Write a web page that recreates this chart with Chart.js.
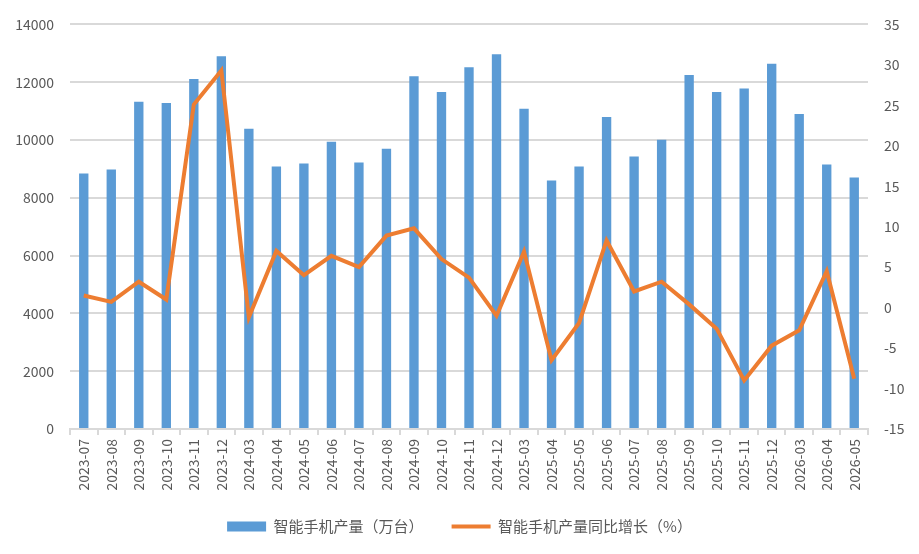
<!DOCTYPE html>
<html>
<head>
<meta charset="utf-8">
<script src="https://cdn.jsdelivr.net/npm/chart.js@4.4.1/dist/chart.umd.min.js"></script>
<style>
    html, body { margin: 0; padding: 0; background: #fff; }
    #wrap { width: 919px; height: 554px; }
</style>
</head>
<body>
<div id="wrap"><canvas id="phoneChart" width="919" height="554"></canvas></div>
<script>
const months = ['2023-07', '2023-08', '2023-09', '2023-10', '2023-11', '2023-12',
    '2024-03', '2024-04', '2024-05', '2024-06', '2024-07', '2024-08', '2024-09', '2024-10', '2024-11', '2024-12',
    '2025-03', '2025-04', '2025-05', '2025-06', '2025-07', '2025-08', '2025-09', '2025-10', '2025-11', '2025-12',
    '2026-03', '2026-04', '2026-05'];

// 智能手机产量（万台）
const output = [8840, 8980, 11320, 11280, 12110, 12900,
    10390, 9080, 9185, 9940, 9220, 9700, 12210, 11660, 12520, 12970,
    11080, 8600, 9080, 10800, 9430, 10010, 12250, 11660, 11780, 12640,
    10900, 9150, 8700];

// 同比增长（%）
const growth = [1.5, 0.7, 3.2, 1.0, 25.1, 29.3,
    -1.2, 7.0, 4.0, 6.4, 5.0, 8.9, 9.8, 6.0, 3.7, -1.0,
    6.9, -6.5, -1.9, 8.3, 2.0, 3.2, 0.4, -2.6, -9.0, -4.7,
    -2.8, 4.5, -8.8];

const gridColor = '#d9d9d9';
const textColor = '#595959';
const fontFamily = '"Noto Sans CJK SC", "Noto Sans", sans-serif';

const ctx = document.getElementById('phoneChart').getContext('2d');
new Chart(ctx, {
    type: 'bar',
    data: {
        labels: months,
        datasets: [{
            type: 'line',
            label: '智能手机产量同比增长（%）',
            data: growth,
            yAxisID: 'y1',
            borderColor: '#ed7d31',
            backgroundColor: '#ed7d31',
            borderWidth: 4,
            pointRadius: 0,
            pointStyle: 'line',
            tension: 0,
            order: 0
        }, {
            label: '智能手机产量（万台）',
            data: output,
            yAxisID: 'y',
            backgroundColor: '#5b9bd5',
            pointStyle: 'rect',
            barPercentage: 0.68,
            categoryPercentage: 0.5,
            order: 1
        }]
    },
    options: {
        responsive: false,
        animation: false,
        layout: { padding: { top: 2, left: 0, right: 0, bottom: 10 } },
        plugins: {
            legend: {
                position: 'bottom',
                reverse: true,
                labels: {
                    usePointStyle: true,
                    pointStyleWidth: 39,
                    boxHeight: 10,
                    padding: 28,
                    color: textColor,
                    font: { family: fontFamily, size: 15 }
                }
            },
            tooltip: { enabled: false }
        },
        scales: {
            x: {
                grid: { display: true, drawOnChartArea: false, color: gridColor, lineWidth: 2, tickLength: 6, offset: true },
                border: { color: gridColor, width: 2 },
                ticks: {
                    color: textColor, maxRotation: 90, minRotation: 90, padding: 4, autoSkip: false,
                    font: { family: fontFamily, size: 14 }
                },
                afterFit: function (scale) { scale.height = 62; }
            },
            y: {
                position: 'left',
                min: 0, max: 14000,
                ticks: {
                    stepSize: 2000, color: textColor, padding: 16,
                    font: { family: fontFamily, size: 14 },
                    callback: function (value) { return String(value); }
                },
                grid: { color: gridColor, lineWidth: 2, drawTicks: false },
                border: { display: false },
                afterFit: function (scale) { scale.width = 70; }
            },
            y1: {
                position: 'right',
                min: -15, max: 35,
                ticks: { stepSize: 5, color: textColor, padding: 16, font: { family: fontFamily, size: 14 } },
                grid: { display: false, drawTicks: false },
                border: { display: false },
                afterFit: function (scale) { scale.width = 51; }
            }
        }
    }
});
</script>
</body>
</html>
